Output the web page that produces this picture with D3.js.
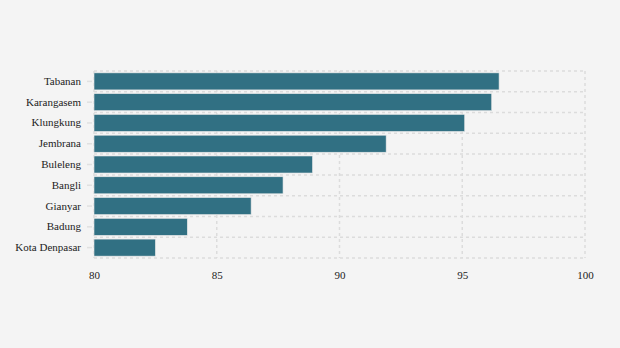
<!DOCTYPE html>
<html><head><meta charset="utf-8">
<script src="https://cdn.jsdelivr.net/npm/d3@7"></script>
<style>body{margin:0;background:#f4f4f4;}svg{display:block;}</style>
</head><body><div id="chart"></div>
<script>
const categories = ["Tabanan","Karangasem","Klungkung","Jembrana","Buleleng","Bangli","Gianyar","Badung","Kota Denpasar"];
const values = [96.5, 96.2, 95.1, 91.9, 88.9, 87.7, 86.4, 83.8, 82.5];
const xTicks = [80, 85, 90, 95, 100];

const W = 620, H = 348;
const m = {left: 94, right: 35, top: 71, bottom: 90};
const svg = d3.select("#chart").append("svg").attr("width", W).attr("height", H)
  .style("background", "#f4f4f4");

const x = d3.scaleLinear().domain([80, 100]).range([m.left, W - m.right]);
const y = d3.scaleBand().domain(categories).range([m.top, H - m.bottom]).paddingInner(0.18).paddingOuter(0.09);

const grid = svg.append("g");
// horizontal gridlines at band boundaries
const step = y.step();
const bounds = d3.range(categories.length + 1).map(i => m.top + i * (H - m.bottom - m.top) / categories.length);
grid.selectAll("line.h").data(bounds).join("line")
  .attr("x1", m.left).attr("x2", W - m.right)
  .attr("y1", d => d).attr("y2", d => d)
  .attr("stroke", "#dcdcdc").attr("stroke-width", 1.5).attr("stroke-dasharray", "3,3");
grid.selectAll("line.v").data(xTicks).join("line")
  .attr("x1", d => x(d)).attr("x2", d => x(d))
  .attr("y1", m.top).attr("y2", H - m.bottom)
  .attr("stroke", "#dcdcdc").attr("stroke-width", 1.5).attr("stroke-dasharray", "3,3");

svg.append("g").selectAll("rect").data(categories).join("rect")
  .attr("x", x(80))
  .attr("y", d => y(d))
  .attr("width", (d, i) => x(values[i]) - x(80))
  .attr("height", y.bandwidth())
  .attr("fill", "#317083")
  .attr("stroke", "#e8e8e8").attr("stroke-width", 0.6);

// y axis
const yAxis = svg.append("g").attr("transform", `translate(${m.left - 2},0)`)
  .call(d3.axisLeft(y).tickSize(5).tickPadding(6));
yAxis.select(".domain").remove();
yAxis.selectAll(".tick line").attr("stroke", "#e0e0e0").attr("stroke-width", 1.5);
yAxis.selectAll("text").attr("font-family", "'Liberation Serif', 'Times New Roman', serif")
  .attr("font-size", 11).attr("fill", "#222");

// x axis
const xAxis = svg.append("g").attr("transform", `translate(0,${H - m.bottom + 7})`)
  .call(d3.axisBottom(x).tickValues(xTicks).tickSize(0).tickPadding(6));
xAxis.select(".domain").remove();
xAxis.selectAll("text").attr("font-family", "'Liberation Serif', 'Times New Roman', serif")
  .attr("font-size", 11).attr("fill", "#222");
</script></body></html>
